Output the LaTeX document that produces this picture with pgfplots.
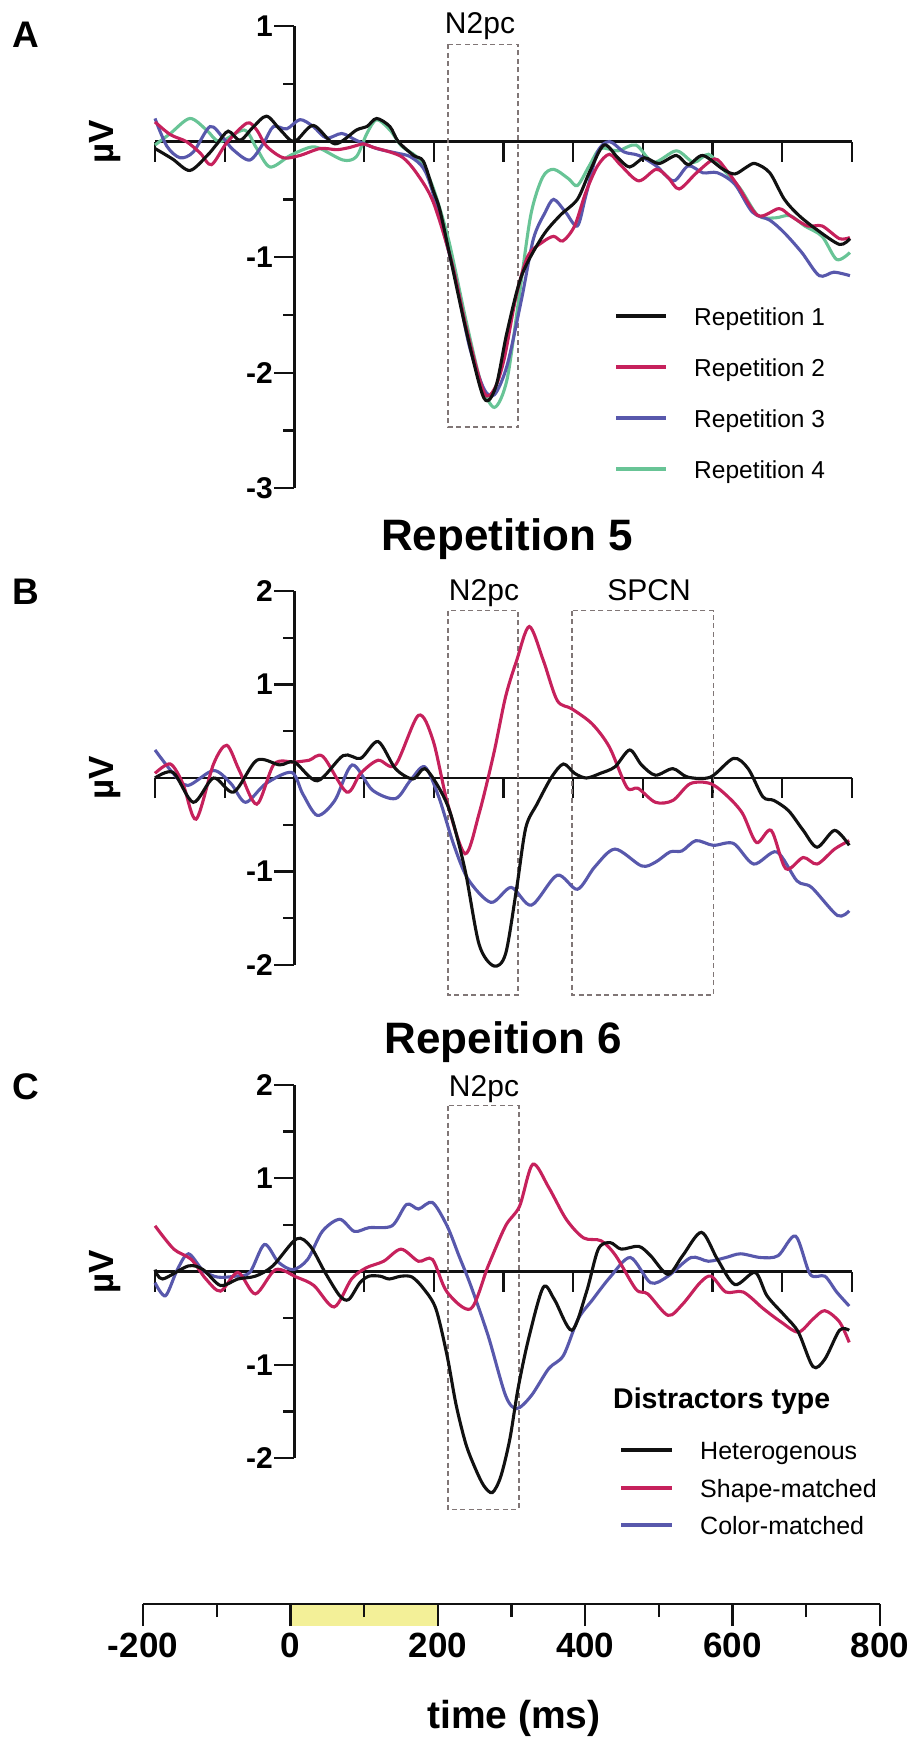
\documentclass[border=0pt]{standalone}
\usepackage{pgfplots}
\pgfplotsset{compat=1.18}
\usepackage{fontspec}
\setmainfont{Liberation Sans}
\definecolor{cBlack}{RGB}{17,17,17}
\definecolor{cRed}{RGB}{198,33,92}
\definecolor{cBlue}{RGB}{88,88,172}
\definecolor{cGreen}{RGB}{104,196,150}
\definecolor{cBox}{RGB}{128,118,118}
\definecolor{cYellow}{RGB}{243,240,152}
\newcommand{\fs}[1]{\fontsize{#1pt}{#1pt}\selectfont}
\tikzset{
  box/.style={draw=cBox, line width=1.6pt, dash pattern=on 5pt off 3.5pt},
}
\pgfplotsset{
  erp/.style={
    scale only axis, width=697pt,
    xmin=-200, xmax=800,
    axis lines=middle,
    axis line style={-, line width=2.6pt, cBlack},
    tick align=outside,
    xtick={-200,-100,...,800}, xticklabels={},
    major tick length=20pt, minor tick length=11pt,
    tick style={line width=2.3pt, cBlack},
    /pgf/number format/assume math mode=true,
    yticklabel style={font=\fs{30}\bfseries, xshift=2pt},
    clip=false,
  },
  dline/.style={line width=3.1pt, smooth, tension=0.5},
}
\begin{document}
\begin{tikzpicture}
\path[use as bounding box] (0pt,0pt) rectangle (910pt,-1740pt);

% ---------------- Panel A ----------------
\begin{axis}[erp, at={(155pt,-488.3pt)}, anchor=south west, height=462.3pt,
  ymin=-3, ymax=1, ytick={-3,-2,-1,1}, minor ytick={-2.5,-1.5,-0.5,0.5}]
\draw[box] (axis cs:220,0.84) rectangle (axis cs:321,-2.47);
\addplot[dline, cGreen] coordinates {
(-200,-0.03) (-178,0.07) (-150,0.2) (-126,0.1) (-107,0) (-72,0.1) (-55,-0.05) (-35,-0.22)
(-6,-0.12) (22,-0.05) (37,-0.06) (70,-0.16) (89,-0.13) (104,0.07) (118,0.19) (137,0.1)
(154,-0.04) (175,-0.13) (190,-0.27) (203,-0.47)
(222,-0.87) (247,-1.57) (268,-2.09) (287,-2.3) (305,-2.06) (322,-1.36) (339,-0.64)
(356,-0.31) (372,-0.24) (393,-0.32) (406,-0.38) (423,-0.21) (439,-0.06) (464,-0.08) (490,-0.03)
(515,-0.18) (548,-0.08) (573,-0.18) (594,-0.11) (615,-0.24) (640,-0.41) (665,-0.64) (690,-0.66)
(711,-0.64) (732,-0.73) (757,-0.82) (778,-1.02) (797,-0.96)};
\addplot[dline, cBlue] coordinates {
(-200,0.2) (-183,-0.04) (-164,-0.14) (-145,-0.09) (-121,0.13) (-102,0.03) (-88,-0.07) (-64,-0.16)
(-44,-0.01) (-30,0.13) (-11,0.11) (8,0.19) (27,0.13) (46,0.03) (68,0.07) (89,0.01) (118,-0.06)
(147,-0.1) (166,-0.13) (185,-0.23) (199,-0.45)
(230,-1.16) (251,-1.77) (272,-2.14) (287,-2.19) (305,-1.94) (326,-1.36) (343,-0.84)
(360,-0.61) (372,-0.5) (389,-0.61) (406,-0.73) (418,-0.47) (435,-0.09) (452,0) (473,-0.09)
(494,-0.12) (519,-0.21) (544,-0.34) (565,-0.21) (586,-0.27) (607,-0.27) (632,-0.37) (657,-0.61)
(682,-0.68) (703,-0.79) (728,-0.96) (753,-1.16) (774,-1.13) (797,-1.16)};
\addplot[dline, cRed] coordinates {
(-200,0.17) (-178,0.06) (-155,0) (-135,-0.1) (-119,-0.2) (-97,-0.01) (-68,0.16) (-54,0.1)
(-40,-0.04) (-16,-0.14) (8,-0.12) (37,-0.06) (61,-0.07) (80,-0.05) (99,-0.02) (113,-0.05)
(137,-0.09) (156,-0.14) (175,-0.27) (199,-0.52)
(226,-1.05) (247,-1.62) (272,-2.17) (287,-2.14) (301,-1.88) (318,-1.34)
(335,-0.99) (356,-0.87) (372,-0.82) (385,-0.86) (402,-0.73) (418,-0.44) (435,-0.21) (452,-0.11)
(469,-0.21) (494,-0.34) (519,-0.24) (536,-0.31) (552,-0.41) (577,-0.27) (603,-0.15) (619,-0.24)
(636,-0.38) (665,-0.64) (695,-0.58) (711,-0.64) (736,-0.73) (757,-0.73) (782,-0.84) (797,-0.83)};
\addplot[dline, cBlack] coordinates {
(-200,-0.06) (-175,-0.15) (-150,-0.25) (-125,-0.12) (-111,-0.02) (-95,0.09) (-78,0.01) (-60,0.12)
(-40,0.22) (-20,0.1) (0,0) (27,0.14) (58,-0.02) (89,0.1) (104,0.13) (118,0.2) (137,0.13) (149,0)
(171,-0.12) (185,-0.17) (199,-0.42) (209,-0.6) (226,-1.07)
(247,-1.65) (272,-2.22) (289,-2.12) (305,-1.65) (326,-1.16) (356,-0.82) (381,-0.64) (406,-0.5)
(423,-0.27) (444,-0.03) (464,-0.14) (481,-0.22) (502,-0.14) (523,-0.19) (548,-0.12) (565,-0.2)
(586,-0.12) (615,-0.24) (632,-0.28) (649,-0.22) (661,-0.19) (682,-0.27) (703,-0.5) (724,-0.64)
(749,-0.76) (782,-0.89) (797,-0.84)};
\end{axis}

% ---------------- Panel B ----------------
\begin{axis}[erp, at={(155pt,-965pt)}, anchor=south west, height=374pt,
  ymin=-2, ymax=2, ytick={-2,-1,1,2}, minor ytick={-1.5,-0.5,0.5,1.5}]
\draw[box] (axis cs:220,1.79) rectangle (axis cs:321,-2.32);
\draw[box] (axis cs:398,1.79) rectangle (axis cs:601,-2.32);
\addplot[dline, cBlue] coordinates {
(-200,0.3) (-174,0.05) (-153,-0.08) (-116,0.08) (-91,-0.06) (-70,-0.26) (-41,-0.06) (-4,0.06)
(12,-0.17) (33,-0.4) (58,-0.24) (83,0.14) (112,-0.13) (145,-0.22) (166,-0.03) (187,0.12)
(207,-0.2) (228,-0.7) (249,-1.08) (282,-1.33) (311,-1.17) (340,-1.36) (377,-1.04) (406,-1.19)
(431,-0.95) (460,-0.76) (498,-0.94) (518,-0.9) (539,-0.79) (556,-0.78) (576,-0.67) (601,-0.72)
(630,-0.7) (659,-0.92) (692,-0.79) (721,-1.1) (742,-1.17) (779,-1.47) (796,-1.42)};
\addplot[dline, cRed] coordinates {
(-200,0.05) (-178,0.15) (-160,-0.06) (-141,-0.44) (-116,0.15) (-97,0.35) (-79,0.08) (-54,-0.28)
(-29,0.15) (0,0.17) (21,0.19) (41,0.23) (75,-0.15) (95,0.05) (120,0.19) (145,0.14) (178,0.67)
(199,0.4) (220,-0.28) (245,-0.81) (265,-0.38) (286,0.26) (303,0.87) (319,1.26) (337,1.62)
(357,1.26) (377,0.83) (398,0.74) (427,0.58) (452,0.33) (477,-0.1) (493,-0.11) (518,-0.26)
(543,-0.24) (568,-0.06) (597,-0.06) (622,-0.2) (643,-0.38) (663,-0.69) (684,-0.56) (705,-0.97)
(730,-0.85) (750,-0.92) (775,-0.76) (796,-0.67)};
\addplot[dline, cBlack] coordinates {
(-200,0) (-174,0.06) (-145,-0.26) (-116,0) (-87,-0.15) (-54,0.19) (-21,0.14) (0,0.17) (33,-0.03)
(70,0.24) (95,0.21) (120,0.39) (145,0.1) (170,-0.01) (187,0.1) (207,-0.1) (224,-0.38)
(245,-0.99) (265,-1.78) (286,-2.01) (303,-1.88) (319,-1.17) (332,-0.53) (348,-0.28) (369,0.01)
(386,0.15) (402,0.05) (419,0) (439,0.05) (460,0.12) (481,0.3) (498,0.14) (518,0.03) (543,0.1)
(564,0.01) (597,0.01) (630,0.21) (651,0.1) (672,-0.2) (688,-0.24) (709,-0.35) (730,-0.56)
(750,-0.74) (775,-0.56) (796,-0.72)};
\end{axis}

% ---------------- Panel C ----------------
\begin{axis}[erp, at={(155pt,-1458pt)}, anchor=south west, height=373pt,
  ymin=-2, ymax=2, ytick={-2,-1,1,2}, minor ytick={-1.5,-0.5,0.5,1.5}]
\draw[box] (axis cs:220,1.78) rectangle (axis cs:322,-2.55);
\addplot[dline, cBlue] coordinates {
(-200,-0.12) (-185,-0.26) (-168,0.02) (-152,0.19) (-131,0.01) (-110,-0.06) (-85,-0.05) (-64,-0.01)
(-43,0.29) (-23,0.1) (-2,0.02) (19,0.13) (40,0.43) (65,0.56) (86,0.43) (107,0.47) (140,0.49)
(161,0.72) (178,0.67) (198,0.74) (219,0.49) (236,0.17) (253,-0.15) (278,-0.69) (303,-1.33)
(319,-1.47) (340,-1.33) (365,-1.04) (386,-0.9) (407,-0.51) (428,-0.3) (453,-0.06) (482,0.15)
(511,-0.12) (536,-0.05) (569,0.15) (594,0.11) (619,0.15) (640,0.19) (669,0.15) (694,0.17)
(719,0.38) (740,-0.03) (761,-0.05) (778,-0.22) (796,-0.37)};
\addplot[dline, cRed] coordinates {
(-200,0.49) (-173,0.24) (-148,0.13) (-127,-0.08) (-106,-0.21) (-81,-0.01) (-56,-0.24) (-27,0.02)
(3,-0.06) (28,-0.15) (57,-0.38) (82,-0.08) (103,0.04) (128,0.11) (153,0.24) (178,0.11) (198,0.13)
(219,-0.22) (253,-0.4) (278,0.06) (303,0.49) (323,0.7) (342,1.15) (365,0.9) (390,0.56) (415,0.36)
(440,0.33) (461,0.17) (490,-0.19) (507,-0.24) (536,-0.47) (557,-0.35) (582,-0.12) (598,-0.05)
(619,-0.22) (644,-0.22) (673,-0.4) (698,-0.54) (723,-0.65) (744,-0.51) (761,-0.42) (782,-0.54)
(796,-0.76)};
\addplot[dline, cBlack] coordinates {
(-200,0.02) (-189,-0.08) (-152,0.06) (-131,0.02) (-106,-0.15) (-81,-0.08) (-56,-0.05) (-31,0.06)
(3,0.35) (23,0.27) (44,-0.01) (65,-0.26) (78,-0.3) (94,-0.12) (107,-0.05) (123,-0.05) (136,-0.08)
(153,-0.05) (169,-0.06) (186,-0.19) (203,-0.4) (219,-0.9) (232,-1.43) (246,-1.85) (260,-2.12)
(272,-2.3) (284,-2.37) (296,-2.2) (309,-1.8) (321,-1.25) (336,-0.72) (357,-0.17) (373,-0.3)
(398,-0.63) (419,-0.22) (436,0.24) (453,0.31) (469,0.24) (494,0.27) (511,0.17) (536,-0.03)
(557,0.17) (584,0.42) (607,0.13) (632,-0.14) (661,-0.01) (678,-0.26) (703,-0.47) (723,-0.65)
(744,-1.02) (761,-0.94) (782,-0.63) (796,-0.63)};
\end{axis}

% ---------------- Time axis ----------------
\begin{axis}[at={(143pt,-1604pt)}, anchor=south west, scale only axis, width=737pt, height=10pt,
  xmin=-200, xmax=800, ymin=0, ymax=1,
  axis x line=bottom, axis y line=none,
  axis line style={-, line width=2.6pt, cBlack},
  axis on top, tick align=outside,
  xtick={-200,0,...,800}, minor xtick={-100,100,...,700},
  major tick length=22pt, minor tick length=13pt,
  tick style={line width=2.3pt, cBlack},
  /pgf/number format/assume math mode=true,
  xticklabel style={font=\fs{35}\bfseries, yshift=-4pt},
  clip=false]
\fill[cYellow] (axis cs:0,0) rectangle ([yshift=-22pt]axis cs:200,0);
\end{axis}
\node[anchor=base, font=\fs{39}\bfseries, inner sep=0] at (514pt,-1728pt) {time (ms)};

% ---------------- Texts ----------------
\node[anchor=base west, font=\fs{37}\bfseries, inner sep=0] at (12pt,-47pt) {A};
\node[anchor=base west, font=\fs{37}\bfseries, inner sep=0] at (12pt,-604pt) {B};
\node[anchor=base west, font=\fs{37}\bfseries, inner sep=0] at (12pt,-1099pt) {C};
\foreach \yy in {142,778,1272}{
  \node[rotate=90, font=\fs{35}\bfseries, inner sep=0] at (105pt,-\yy pt) {µV};
}
\node[anchor=base, font=\fs{44}\bfseries, inner sep=0] at (507pt,-550pt) {Repetition 5};
\node[anchor=base, font=\fs{44}\bfseries, inner sep=0] at (503pt,-1053pt) {Repeition 6};
\node[anchor=base, font=\fs{30}, inner sep=0] at (480pt,-33pt) {N2pc};
\node[anchor=base, font=\fs{30}, inner sep=0] at (484pt,-600pt) {N2pc};
\node[anchor=base, font=\fs{30}, inner sep=0] at (649pt,-600pt) {SPCN};
\node[anchor=base, font=\fs{30}, inner sep=0] at (484pt,-1096pt) {N2pc};

% Legend A
\foreach \yy/\cc/\lab in {316/cBlack/Repetition 1, 367/cRed/Repetition 2, 418/cBlue/Repetition 3, 469/cGreen/Repetition 4}{
  \draw[\cc, line width=3.3pt] (616pt,-\yy pt) -- (666pt,-\yy pt);
  \node[anchor=base west, font=\fs{24.5}, inner sep=0] at (694pt,-\yy pt-9pt) {\lab};
}
% Legend C
\node[anchor=base west, font=\fs{28.5}\bfseries, inner sep=0] at (613pt,-1408pt) {Distractors type};
\foreach \yy/\cc/\lab in {1450/cBlack/Heterogenous, 1488/cRed/Shape-matched, 1525/cBlue/Color-matched}{
  \draw[\cc, line width=3.3pt] (621pt,-\yy pt) -- (672pt,-\yy pt);
  \node[anchor=base west, font=\fs{25}, inner sep=0] at (700pt,-\yy pt-9pt) {\lab};
}
\end{tikzpicture}
\end{document}
